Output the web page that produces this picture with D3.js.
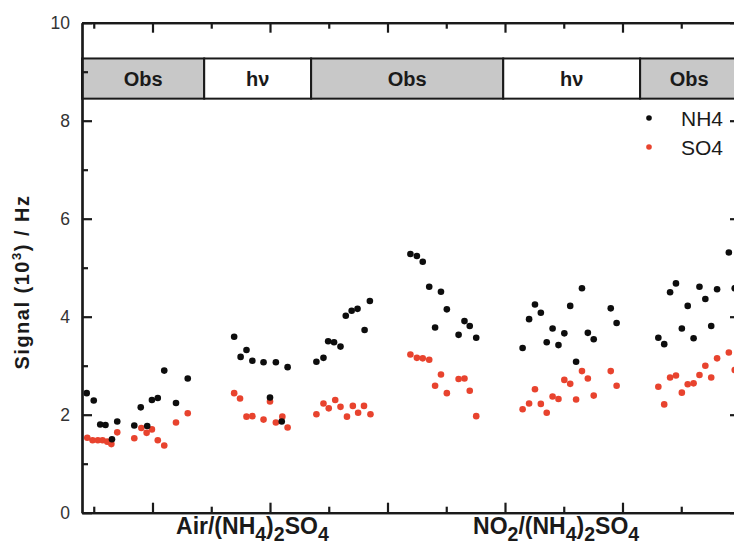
<!DOCTYPE html>
<html>
<head>
<meta charset="utf-8">
<script src="https://cdn.jsdelivr.net/npm/d3@7"></script>
<style>
  html, body { margin: 0; padding: 0; background: #fff; overflow: hidden; }
  svg { display: block; font-family: Arial, "Liberation Sans", Helvetica, sans-serif; }
</style>
</head>
<body>
<svg id="chart" width="734" height="549"></svg>
<script>
// ---------------- data ----------------
const bandLabels = ["Obs", "hν", "Obs", "hν", "Obs"];
const bandStart  = [0.8, 2.88, 4.70, 7.97, 10.30];
const bandEnd    = [2.88, 4.70, 7.97, 10.30, 12.0];

const conditionLabels = ["Air/(NH_4)_2SO_4", "NO_2/(NH_4)_2SO_4"];
const conditionX      = [3.70, 8.87];

const seriesNames = ["NH4", "SO4"];

const nh4X = [0.88, 1.00, 1.11, 1.20, 1.31, 1.40, 1.69, 1.80, 1.91, 1.99, 2.09, 2.20, 2.40, 2.60,
              3.39, 3.50, 3.60, 3.70, 3.89, 4.00, 4.10, 4.20, 4.30,
              4.79, 4.91, 4.99, 5.09, 5.20, 5.29, 5.39, 5.49, 5.61, 5.70,
              6.39, 6.50, 6.60, 6.71, 6.81, 6.91, 7.01, 7.21, 7.31, 7.40, 7.51,
              8.30, 8.41, 8.51, 8.61, 8.71, 8.81, 8.91, 9.01, 9.11, 9.21, 9.31, 9.41, 9.51, 9.80, 9.90,
              10.61, 10.71, 10.81, 10.91, 11.01, 11.11, 11.21, 11.31, 11.41, 11.51, 11.61, 11.81, 11.91];
const nh4Y = [2.44, 2.29, 1.80, 1.79, 1.50, 1.86, 1.78, 2.15, 1.77, 2.30, 2.34, 2.90, 2.24, 2.74,
              3.59, 3.18, 3.32, 3.10, 3.07, 2.35, 3.07, 1.86, 2.97,
              3.08, 3.16, 3.50, 3.48, 3.39, 4.02, 4.12, 4.16, 3.73, 4.32,
              5.28, 5.24, 5.12, 4.61, 3.78, 4.51, 4.15, 3.63, 3.91, 3.81, 3.57,
              3.36, 3.95, 4.25, 4.08, 3.48, 3.76, 3.42, 3.66, 4.22, 3.08, 4.58, 3.67, 3.54, 4.17, 3.87,
              3.57, 3.44, 4.50, 4.68, 3.76, 4.22, 3.56, 4.61, 4.36, 3.81, 4.56, 5.31, 4.58];

const so4X = [0.89, 0.98, 1.07, 1.15, 1.23, 1.30, 1.40, 1.69, 1.81, 1.90, 1.99, 2.09, 2.20, 2.40, 2.60,
              3.39, 3.49, 3.60, 3.70, 3.89, 4.00, 4.10, 4.21, 4.30,
              4.79, 4.91, 5.00, 5.11, 5.20, 5.31, 5.41, 5.50, 5.60, 5.71,
              6.39, 6.50, 6.60, 6.71, 6.81, 6.91, 7.01, 7.21, 7.31, 7.40, 7.51,
              8.30, 8.41, 8.51, 8.61, 8.71, 8.81, 8.91, 9.01, 9.11, 9.21, 9.31, 9.41, 9.51, 9.80, 9.90,
              10.61, 10.71, 10.81, 10.91, 11.01, 11.11, 11.21, 11.31, 11.41, 11.51, 11.61, 11.81, 11.91];
const so4Y = [1.53, 1.48, 1.48, 1.48, 1.45, 1.40, 1.64, 1.52, 1.73, 1.63, 1.70, 1.48, 1.37, 1.84, 2.03,
              2.44, 2.33, 1.96, 1.97, 1.90, 2.27, 1.84, 1.96, 1.74,
              2.01, 2.23, 2.13, 2.30, 2.16, 1.96, 2.18, 2.04, 2.18, 2.01,
              3.23, 3.16, 3.15, 3.12, 2.59, 2.82, 2.44, 2.73, 2.74, 2.49, 1.97,
              2.11, 2.23, 2.52, 2.22, 2.04, 2.37, 2.32, 2.71, 2.63, 2.31, 2.89, 2.74, 2.39, 2.89, 2.59,
              2.57, 2.21, 2.76, 2.80, 2.45, 2.62, 2.64, 2.81, 3.00, 2.76, 3.15, 3.27, 2.91];

const xMajorTicks = [2, 4, 6, 8, 10];
const xMinorTicks = [1, 3, 5, 7, 9, 11];
const yMajorTicks = [0, 2, 4, 6, 8, 10];
const yMinorTicks = [1, 3, 5, 7, 9];

// ---------------- layout ----------------
const svg = d3.select("#chart");
const x = d3.scaleLinear().domain([0.8, 12]).range([82, 740]);
const y = d3.scaleLinear().domain([0, 10]).range([512.7, 22.7]);
const axisColor = "#1a1a1a";
const gray = "#c8c8c8";
const red = "#e8432e";

// band (Obs / hv)
const bandTop = y(9.27), bandBot = y(8.45);
const bands = bandLabels.map((l, i) => ({label: l, s: bandStart[i], e: bandEnd[i]}));
const bg = svg.append("g");
bg.selectAll("rect").data(bands).join("rect")
  .attr("x", d => x(d.s)).attr("y", bandTop)
  .attr("width", d => x(d.e) - x(d.s)).attr("height", bandBot - bandTop)
  .attr("fill", d => d.label === "Obs" ? gray : "#fff")
  .attr("stroke", axisColor).attr("stroke-width", 2);
bg.selectAll("text").data(bands).join("text")
  .attr("x", d => d.e >= 12 ? x(d.s) + 49 : (x(d.s) + x(d.e)) / 2)
  .attr("y", (bandTop + bandBot) / 2 + 7)
  .attr("text-anchor", "middle")
  .attr("font-size", 20).attr("font-weight", "bold").attr("fill", "#1a1a1a")
  .text(d => d.label);

// points
const nh4 = nh4X.map((v, i) => ({x: v, y: nh4Y[i]}));
const so4 = so4X.map((v, i) => ({x: v, y: so4Y[i]}));
svg.append("g").selectAll("circle").data(so4).join("circle")
  .attr("cx", d => x(d.x)).attr("cy", d => y(d.y)).attr("r", 3.3).attr("fill", red);
svg.append("g").selectAll("circle").data(nh4).join("circle")
  .attr("cx", d => x(d.x)).attr("cy", d => y(d.y)).attr("r", 3.3).attr("fill", "#0d0d0d");

// axes
function styleAxis(g) {
  g.selectAll("path").attr("stroke", axisColor).attr("stroke-width", 2.2);
  g.selectAll("line").attr("stroke", axisColor).attr("stroke-width", 2.2);
  g.selectAll("text").attr("fill", "#333").attr("font-size", 17.5)
    .attr("font-family", "Arial, 'Liberation Sans', sans-serif");
}
const x0 = y(0), yTop = y(10), xl = x(0.8), xr = x(12);
// bottom
svg.append("g").attr("transform", `translate(0,${x0})`)
  .call(d3.axisBottom(x).tickValues(xMajorTicks).tickSizeInner(-10).tickSizeOuter(0).tickFormat(""))
  .call(styleAxis);
svg.append("g").attr("transform", `translate(0,${x0})`)
  .call(d3.axisBottom(x).tickValues(xMinorTicks).tickSizeInner(-6).tickSizeOuter(0).tickFormat(""))
  .call(styleAxis);
// top
svg.append("g").attr("transform", `translate(0,${yTop})`)
  .call(d3.axisTop(x).tickValues(xMajorTicks).tickSizeInner(-10).tickSizeOuter(0).tickFormat(""))
  .call(styleAxis);
svg.append("g").attr("transform", `translate(0,${yTop})`)
  .call(d3.axisTop(x).tickValues(xMinorTicks).tickSizeInner(-6).tickSizeOuter(0).tickFormat(""))
  .call(styleAxis);
// left
svg.append("g").attr("transform", `translate(${xl},0)`)
  .call(d3.axisLeft(y).tickValues(yMajorTicks).tickSizeInner(-10).tickSizeOuter(0).tickPadding(12).tickFormat(d3.format("d")))
  .call(styleAxis);
svg.append("g").attr("transform", `translate(${xl},0)`)
  .call(d3.axisLeft(y).tickValues(yMinorTicks).tickSizeInner(-6).tickSizeOuter(0).tickFormat(""))
  .call(styleAxis);
// right
svg.append("g").attr("transform", `translate(${xr},0)`)
  .call(d3.axisRight(y).tickValues(yMajorTicks).tickSizeInner(-10).tickSizeOuter(0).tickFormat(""))
  .call(styleAxis);
svg.append("g").attr("transform", `translate(${xr},0)`)
  .call(d3.axisRight(y).tickValues(yMinorTicks).tickSizeInner(-6).tickSizeOuter(0).tickFormat(""))
  .call(styleAxis);

// y title
const yt = svg.append("text")
  .attr("transform", `translate(29,282) rotate(-90)`)
  .attr("text-anchor", "middle").attr("font-size", 20).attr("font-weight", "bold").attr("fill", "#1a1a1a");
yt.append("tspan").text("Signal (10");
yt.append("tspan").attr("font-size", 13).attr("dy", -8).text("3");
yt.append("tspan").attr("dy", 8).text(") / Hz");
{
  const target = 175;
  const len = yt.node().getComputedTextLength();
  const n = "Signal (103) / Hz".length;
  if (len < target) yt.attr("letter-spacing", ((target - len) / n).toFixed(2));
}

// condition labels with subscripts
function richText(sel, str, sub) {
  const parts = str.split(/(_\d)/).filter(s => s.length);
  let down = false;
  parts.forEach(p => {
    if (p.startsWith("_")) {
      sel.append("tspan").attr("font-size", sub).attr("dy", down ? 0 : 7).text(p.slice(1));
      down = true;
    } else {
      sel.append("tspan").attr("dy", down ? -7 : 0).text(p);
      down = false;
    }
  });
}
conditionLabels.forEach((lab, i) => {
  const t = svg.append("text").attr("x", x(conditionX[i])).attr("y", 534)
    .attr("text-anchor", "middle").attr("font-size", 23).attr("font-weight", "bold").attr("fill", "#1a1a1a");
  richText(t, lab, 19.5);
});

// legend
const legColors = ["#0d0d0d", red];
seriesNames.forEach((n, i) => {
  const cy = 118 + i * 29;
  svg.append("circle").attr("cx", 649).attr("cy", cy).attr("r", 2.8).attr("fill", legColors[i]);
  svg.append("text").attr("x", 681).attr("y", cy + 7.5).attr("font-size", 21).attr("fill", "#1a1a1a").text(n);
});
</script>
</body>
</html>
